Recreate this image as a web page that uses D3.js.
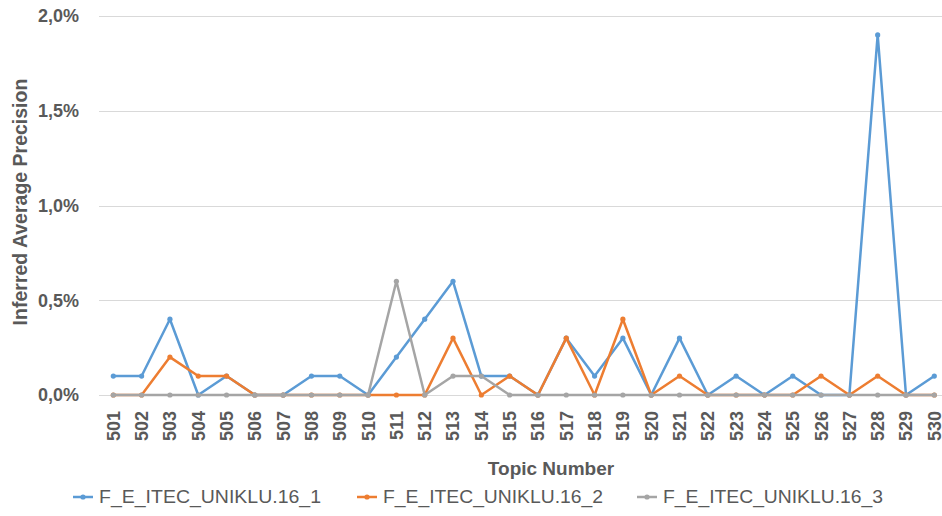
<!DOCTYPE html>
<html><head><meta charset="utf-8">
<script src="https://cdn.jsdelivr.net/npm/d3@7"></script>
<style>body{margin:0;background:#fff}svg{display:block}</style>
</head><body>
<script>
const topics = ["501","502","503","504","505","506","507","508","509","510","511","512","513","514","515","516","517","518","519","520","521","522","523","524","525","526","527","528","529","530"];
const series1 = [0.001,0.001,0.004,0,0.001,0,0,0.001,0.001,0,0.002,0.004,0.006,0.001,0.001,0,0.003,0.001,0.003,0,0.003,0,0.001,0,0.001,0,0,0.019,0,0.001];
const series2 = [0,0,0.002,0.001,0.001,0,0,0,0,0,0,0,0.003,0,0.001,0,0.003,0,0.004,0,0.001,0,0,0,0,0.001,0,0.001,0,0];
const series3 = [0,0,0,0,0,0,0,0,0,0,0.006,0,0.001,0.001,0,0,0,0,0,0,0,0,0,0,0,0,0,0,0,0];
const seriesNames = ["F_E_ITEC_UNIKLU.16_1","F_E_ITEC_UNIKLU.16_2","F_E_ITEC_UNIKLU.16_3"];
const colors = ["#5B9BD5","#ED7D31","#A5A5A5"];
const yTicks = [0,0.005,0.01,0.015,0.02];

const W = 942, H = 516;
const svg = d3.select("body").append("svg").attr("width",W).attr("height",H);
const font = "'Liberation Sans', Arial, sans-serif";
const txt = "#595959";

const x = d3.scalePoint().domain(topics).range([113.3, 934.3]);
const y = d3.scaleLinear().domain([0,0.02]).range([395,16]);
const loc = d3.formatLocale({decimal:",",thousands:".",grouping:[3],currency:["","€"],percent:"%"});
const fmt = loc.format(".1%");

// gridlines
svg.append("g").selectAll("line").data(yTicks).join("line")
  .attr("x1",99).attr("x2",W).attr("y1",d=>Math.round(y(d))+0.5).attr("y2",d=>Math.round(y(d))+0.5)
  .attr("stroke","#D9D9D9").attr("stroke-width",1);

// y axis
const ya = svg.append("g").attr("transform","translate(99,0)")
  .call(d3.axisLeft(y).tickValues(yTicks).tickFormat(fmt).tickSize(0).tickPadding(20));
ya.select(".domain").remove();
ya.selectAll("text").attr("font-family",font).attr("font-weight","bold").attr("font-size",18).attr("fill",txt);

// x axis
const xa = svg.append("g").attr("transform","translate(0,395)")
  .call(d3.axisBottom(x).tickSize(0).tickPadding(0));
xa.select(".domain").remove();
xa.selectAll("text").attr("font-family",font).attr("font-weight","bold").attr("font-size",18).attr("fill",txt)
  .attr("transform","translate(0,16) rotate(-90)").attr("text-anchor","end").attr("dy","0.33em").attr("y",0).attr("x",0);

// axis titles
svg.append("text").attr("x",551).attr("y",475).attr("text-anchor","middle")
  .attr("font-family",font).attr("font-weight","bold").attr("font-size",19).attr("fill",txt).text("Topic Number");
svg.append("text").attr("transform","translate(27,202) rotate(-90)").attr("text-anchor","middle")
  .attr("font-family",font).attr("font-weight","bold").attr("font-size",19.5).attr("fill",txt).text("Inferred Average Precision");

// lines
const all = [series1, series2, series3];
const line = d3.line().x((d,i)=>x(topics[i])).y(d=>y(d));
all.forEach((s,k)=>{
  const g = svg.append("g");
  g.append("path").datum(s).attr("d",line).attr("fill","none").attr("stroke",colors[k]).attr("stroke-width",2.5).attr("stroke-linejoin","round");
  g.selectAll("circle").data(s).join("circle").attr("cx",(d,i)=>x(topics[i])).attr("cy",d=>y(d)).attr("r",2.6).attr("fill",colors[k]);
});

// legend
const legX = [73, 357, 637];
const legW = [222, 220, 220];
seriesNames.forEach((n,k)=>{
  const g = svg.append("g").attr("transform",`translate(${legX[k]},497)`);
  g.append("line").attr("x1",0).attr("x2",20).attr("y1",0).attr("y2",0).attr("stroke",colors[k]).attr("stroke-width",2.5);
  g.append("circle").attr("cx",10).attr("cy",0).attr("r",2.6).attr("fill",colors[k]);
  g.append("text").attr("x",26).attr("y",0).attr("dy","0.35em").attr("font-family",font).attr("font-size",17.5).attr("fill",txt)
    .attr("textLength",legW[k]).attr("lengthAdjust","spacingAndGlyphs").text(n);
});
</script>
</body></html>
